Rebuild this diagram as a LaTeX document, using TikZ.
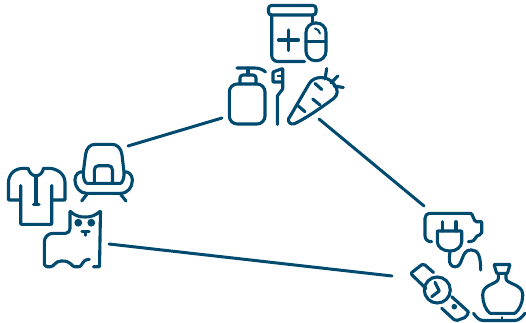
\documentclass[tikz,border=0pt]{standalone}
\usetikzlibrary{calc}
\definecolor{azulIcon}{HTML}{004A70}
\tikzset{
  icon/.style={draw=azulIcon,line width=3.1pt,line cap=round,line join=round,rounded corners=.6pt},
  link/.style={draw=azulIcon,line width=3pt,line cap=round},
}
\begin{document}
\begin{tikzpicture}[x=1pt,y=-1pt]
  \useasboundingbox (0,0) rectangle (526,323);
  % connectors
  \coordinate (careA) at (222,118);
  \coordinate (homeA) at (128,146);
  \coordinate (careB) at (319,119);
  \coordinate (techA) at (424,206);
  \coordinate (homeB) at (109,244);
  \coordinate (techB) at (392,276);
  \draw[link] (homeA) -- (careA);
  \draw[link] (careB) -- (techA);
  \draw[link] (homeB) -- (techB);
  % jar and capsule
  \draw[icon,rounded corners=3pt] (268.5,5.5) rectangle (316,15);
  \draw[icon,rounded corners=6pt] (271.7,15) -- (271.7,61.5) -- (304.5,61.5);
  \draw[icon] (312.7,15) -- (312.7,23);
  \draw[icon] (278.5,40) -- (298.5,40);
  \draw[icon] (288.3,30) -- (288.3,50.5);
  \draw[icon,rounded corners=9.5pt] (306,23) rectangle (326,60.7);
  \draw[icon] (306,41.7) -- (326,41.7);
  \draw[icon,line width=2pt] (315,28.5) to[bend left=30] (320,33.5);
  % soap bottle
  \draw[icon,rounded corners=8pt] (229.3,84) rectangle (265,124);
  \draw[icon,rounded corners=3pt] (240,84) -- (240,75) -- (256,75) -- (256,84);
  \draw[icon] (248,68) -- (248,75);
  \draw[icon] (237,68) -- (254,68) .. controls (259,68) and (263,69.5) .. (265.5,72);
  % toothbrush
  \draw[icon] (277.3,124.5) -- (277.3,96) -- (282.7,89) -- (282.7,68.5) -- (273,72) -- (273,82) -- (282.7,82);
  \draw[icon,line width=2pt] (277.5,76) -- (282.7,76);
  % carrot
  \draw[icon] (288.8,118.5) -- (309,84) .. controls (314,75.5) and (327,76) .. (333,83)
    .. controls (339,90) and (338,95) .. (333,99) .. controls (322,107) and (308,117) .. (295,123.5)
    .. controls (291,125) and (287.5,122) .. (288.8,118.5) -- cycle;
  \draw[icon] (326.7,68.5) -- (325,79);
  \draw[icon] (337.7,76) -- (331,83);
  \draw[icon] (343.3,87.5) -- (334,86);
  \draw[icon] (315,83.5) -- (321.7,89.5);
  \draw[icon] (312.7,99) -- (320,105);
  \draw[icon] (298.3,106) -- (305,111.7);
  % shirt
  \draw[icon] (20.7,200) -- (8.5,200) -- (8.5,183) .. controls (8.5,174) and (15,168.3) .. (24,168.3) -- (28.3,168.3)
    .. controls (29,172) and (32,175.7) .. (36,175.7) .. controls (40,175.7) and (43,172) .. (43.3,168.3) -- (48,168.3)
    .. controls (57,168.3) and (65,174) .. (65,183) -- (65,200) -- (52,200);
  \draw[icon] (20.7,185.5) -- (20.7,224.3) -- (51.7,224.3) -- (51.7,185.5);
  \draw[icon] (36,176) -- (36,204.3);
  \draw[icon] (33.5,204.3) -- (39,204.3);
  % armchair
  \draw[icon] (83.3,172) -- (85.5,155) .. controls (86.5,148) and (90,144.3) .. (96,144.3) -- (111,144.3)
    .. controls (117,144.3) and (121,148) .. (122,155) -- (124,172);
  \draw[icon] (94.3,183.3) -- (94.3,171) .. controls (94.3,167.5) and (96,165.7) .. (99,165.7) -- (108,165.7)
    .. controls (111,165.7) and (112.5,167.5) .. (112.5,171) -- (112.5,183.3);
  \draw[icon] (87,183.3) -- (120,183.3) .. controls (122,183.3) and (124.5,178) .. (124,172)
    .. controls (128,171) and (132.3,175) .. (132.3,180) .. controls (132.3,187) and (128,193.3) .. (120,193.3)
    -- (87,193.3) .. controls (80,193.3) and (75,187) .. (75,180) .. controls (75,175) and (79,171) .. (83.3,172)
    .. controls (83,178) and (85,183.3) .. (87,183.3);
  \draw[icon] (86.7,194.5) -- (81.7,201);
  \draw[icon] (120.7,194.5) -- (126,201);
  % cat
  \draw[icon] (89.3,259.3) .. controls (85,259.5) and (83,262) .. (82,264) .. controls (81,266) and (80,266.7) .. (78,266.7)
    -- (75,266.7) .. controls (72,266.7) and (71,261) .. (62,261) .. controls (55,261) and (54,266.7) .. (50,266.7)
    -- (46.5,266.7) -- (44.3,264.5) -- (44.3,243)
    .. controls (44.3,237) and (48,233.3) .. (54,233.3) -- (65,233.3) .. controls (68.5,233.3) and (70,231) .. (70,228) -- (70,211)
    .. controls (75,216) and (80,217) .. (85,217) .. controls (90,217) and (95,216) .. (100.5,211)
    -- (99.5,266.7) -- (93.5,266.7);
  \fill[azulIcon] (78.3,222.7) circle(3.9) (91.3,222.7) circle(3.9);
  \draw[icon,line width=2.5pt] (81.7,231.7) -- (89.3,231.7);
  \draw[icon,line width=2.5pt] (85.3,232) -- (85.3,235.5);
  % battery and plug
  \draw[icon] (431.7,241.7) .. controls (427,241.7) and (425,239) .. (425,235) -- (425,219)
    .. controls (425,215.5) and (427,213.3) .. (430,213.3) -- (470,213.3)
    .. controls (473,213.3) and (473.5,221.7) .. (477,221.7) -- (481.7,221.7) -- (481.7,232)
    .. controls (481.7,235) and (478,235) .. (476.5,236.5) .. controls (475,240) and (473,241.7) .. (468.3,241.7);
  \draw[icon] (442.7,221.7) -- (442.7,231);
  \draw[icon] (456,221.7) -- (456,231);
  \draw[icon] (437.3,231) -- (461.7,231) -- (461.7,241) .. controls (461.7,247) and (456,251) .. (450,251)
    .. controls (443,251) and (437.3,247) .. (437.3,241) -- cycle;
  \draw[icon] (450,251) -- (449.3,259) .. controls (449.3,264) and (452,266.7) .. (455,266.7)
    .. controls (463,266.7) and (461,250) .. (471,250) .. controls (478,250) and (480.7,256) .. (480.7,270);
  % watch
  \draw[icon] (437.3,290) circle(13);
  \draw[icon] (435,282.3) -- (439.3,291) -- (431.7,296.7);
  \draw[icon,rounded corners=2pt] (426,288.5) -- (410.5,273.5) -- (423.3,263.5) -- (433.5,272.5);
  \draw[icon] (451.7,296.7) -- (468.3,311.7);
  \draw[icon,rounded corners=2pt] (468.3,311.7) -- (466.5,317) -- (455.5,321) -- (441.7,308.3);
  \fill[azulIcon] (454.3,306.7) circle(2.8);
  % decanter
  \draw[icon] (494,264.5) -- (510,264.5) -- (507.5,273.3) -- (496.7,273.3) -- cycle;
  \draw[icon] (498.3,273.3) -- (498.3,278) .. controls (498.3,284) and (482.7,284) .. (482.7,295)
    .. controls (482.7,303) and (486,310) .. (490,313.3) -- (515,313.3)
    .. controls (519,310) and (522.7,303) .. (522.7,295) .. controls (522.7,284) and (506,284) .. (506,278) -- (506,273.3);
  \draw[icon] (473.5,313.3) .. controls (476,317) and (479,320.5) .. (484,320.5) -- (514,320.5)
    .. controls (519,320.5) and (522,317) .. (525,313.3);
  \draw[icon,line width=1.5pt] (502,317) -- (502,320);
\end{tikzpicture}
\end{document}
